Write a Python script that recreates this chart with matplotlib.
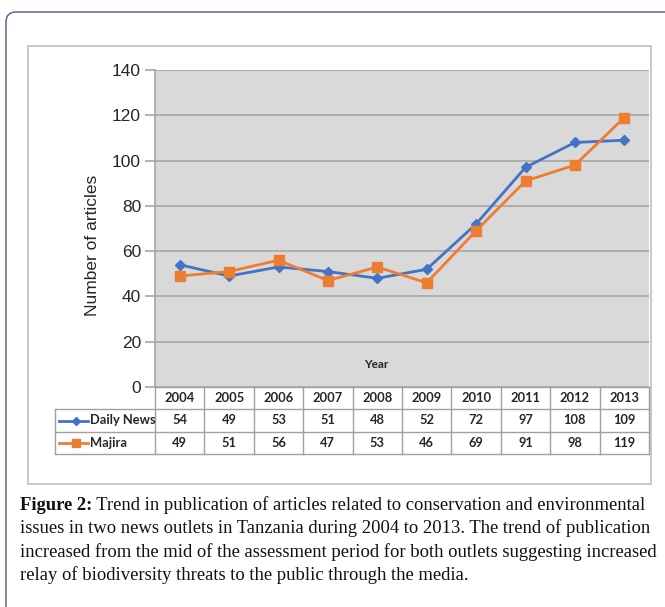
import matplotlib
matplotlib.use("Agg")
import matplotlib.pyplot as plt
from matplotlib.patches import FancyBboxPatch, Rectangle
from matplotlib.lines import Line2D

years = ["2004", "2005", "2006", "2007", "2008", "2009", "2010", "2011", "2012", "2013"]
daily_news = [54, 49, 53, 51, 48, 52, 72, 97, 108, 109]
majira = [49, 51, 56, 47, 53, 46, 69, 91, 98, 119]
series_names = ["Daily News", "Majira"]
y_ticks = [0, 20, 40, 60, 80, 100, 120, 140]
y_label = "Number of articles"
x_label = "Year"
caption_bold = "Figure 2:"
caption_lines = [
    " Trend in publication of articles related to conservation and environmental",
    "issues in two news outlets in Tanzania during 2004 to 2013. The trend of publication",
    "increased from the mid of the assessment period for both outlets suggesting increased",
    "relay of biodiversity threats to the public through the media.",
]

W, H = 665, 607
BLUE = "#4472C4"
ORANGE = "#ED7D31"

fig = plt.figure(figsize=(W / 100, H / 100), dpi=100)


def fx(px):
    return px / W


def fy(py):
    return 1 - py / H


# overlay axes in pixel coordinates (y down)
ov = fig.add_axes([0, 0, 1, 1], zorder=0)
ov.set_xlim(0, W)
ov.set_ylim(H, 0)
ov.axis("off")

# outer rounded border
ov.add_patch(FancyBboxPatch((6, 12), 700, 700, boxstyle="round,pad=0,rounding_size=10",
                            fill=False, edgecolor="#55558F", linewidth=1.0))
# chart box
ov.add_patch(Rectangle((28, 46), 623, 438, fill=False, edgecolor="#BFBFBF", linewidth=1.2))

# plot area
L, R, T, B = 155, 649, 70, 387
ax = fig.add_axes([fx(L), fy(B), fx(R - L), (B - T) / H], zorder=2)
ax.set_facecolor("#D9D9D9")
x = list(range(len(years)))
ax.plot(x, daily_news, color=BLUE, marker="D", markersize=5.5, linewidth=2, label=series_names[0])
ax.plot(x, majira, color=ORANGE, marker="s", markersize=6.5, linewidth=2, label=series_names[1])
ax.set_xlim(-0.5, len(years) - 0.5)
ax.set_ylim(0, 140)
ax.set_yticks(y_ticks)
ax.set_yticklabels([str(v) for v in y_ticks], fontsize=12.5, family="Liberation Sans", color="#262626")
ax.set_xticks([])
ax.yaxis.grid(True, color="#A6A6A6", linewidth=1.2)
ax.set_axisbelow(True)
for s in ["top", "right", "bottom"]:
    ax.spines[s].set_visible(False)
ax.spines["left"].set_color("#A6A6A6")
ax.spines["left"].set_linewidth(1.2)
ax.tick_params(axis="y", length=7, color="#A6A6A6", width=1.2, pad=3)
ax.text(0.448, 0.07, x_label, transform=ax.transAxes, ha="center", va="center",
        fontsize=8.5, fontweight="bold", family="Lato", color="#262626")

fig.text(fx(93), fy(245), y_label, rotation=90, ha="center", va="center",
         fontsize=12.5, family="Liberation Sans", color="#262626")

# data table
cw = (R - L) / len(years)
rows_y = [387, 409, 432, 454]
tc = "#A0A0A0"
ov.plot([L, R], [rows_y[0], rows_y[0]], color=tc, lw=1.0)
for yy in rows_y[1:]:
    ov.plot([55, R], [yy, yy], color=tc, lw=1.0)
ov.plot([55, 55], [rows_y[1], rows_y[3]], color=tc, lw=1.0)
for i in range(len(years) + 1):
    xx = L + i * cw
    ov.plot([xx, xx], [rows_y[0], rows_y[3]], color=tc, lw=1.0)
tfont = dict(fontsize=9.3, fontweight="bold", family="Lato", color="#262626", ha="center", va="center")
for i, yr in enumerate(years):
    cx = L + (i + 0.5) * cw
    ov.text(cx, (rows_y[0] + rows_y[1]) / 2, yr, **tfont)
    ov.text(cx, (rows_y[1] + rows_y[2]) / 2, str(daily_news[i]), **tfont)
    ov.text(cx, (rows_y[2] + rows_y[3]) / 2, str(majira[i]), **tfont)
for k, (name, col, mk, ms) in enumerate([(series_names[0], BLUE, "D", 4), (series_names[1], ORANGE, "s", 6)]):
    cy = (rows_y[k + 1] + rows_y[k + 2]) / 2
    ov.add_line(Line2D([59, 88], [cy, cy], color=col, lw=2))
    ov.add_line(Line2D([76], [cy], color=col, marker=mk, markersize=ms, lw=0))
    ov.text(90, cy, name, fontsize=9.3, fontweight="bold", family="Lato", color="#262626",
            ha="left", va="center")

# caption
CAP_FS = 13.4
cap_y = [505, 528.5, 552, 575.5]
t = ov.text(20, cap_y[0], caption_bold, fontsize=CAP_FS, fontweight="bold", family="Liberation Serif",
            color="#111111", ha="left", va="center")
fig.canvas.draw()
bb = t.get_window_extent()
x_after = bb.x1
inv = ov.transData.inverted()
x_after_data = inv.transform((x_after, 0))[0]
ov.text(x_after_data, cap_y[0], caption_lines[0], fontsize=CAP_FS, family="Liberation Serif",
        color="#111111", ha="left", va="center")
for yy, line in zip(cap_y[1:], caption_lines[1:]):
    ov.text(20, yy, line, fontsize=CAP_FS, family="Liberation Serif", color="#111111",
            ha="left", va="center")

fig.savefig("out.png", dpi=100)
